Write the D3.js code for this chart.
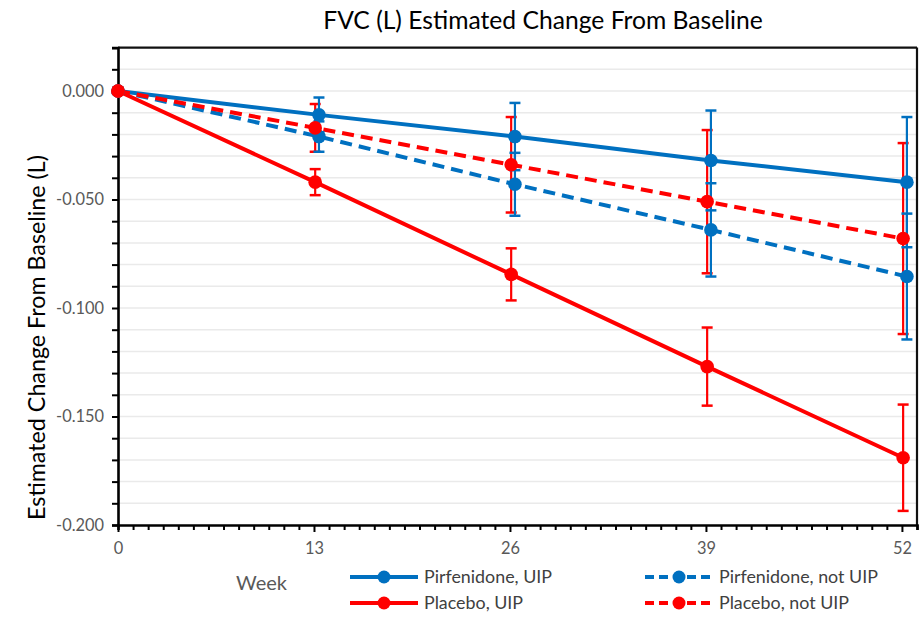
<!DOCTYPE html>
<html><head><meta charset="utf-8">
<script src="https://cdn.jsdelivr.net/npm/d3@7"></script>
<style>body{margin:0;background:#fff} svg{display:block}</style>
</head><body>
<svg id="chart" width="920" height="618"></svg>
<script>
// ---------------- data ----------------
const weeks = [0, 13, 26, 39, 52];
const seriesNames = ["Pirfenidone, UIP", "Pirfenidone, not UIP", "Placebo, UIP", "Placebo, not UIP"];
const pirfUIP      = [0, -0.011, -0.021, -0.032, -0.042];
const pirfUIPErr   = [0, 0.008, 0.0155, 0.023, 0.030];
const pirfNotUIP   = [0, -0.021, -0.043, -0.064, -0.0855];
const pirfNotUIPErr= [0, 0.007, 0.0145, 0.0215, 0.029];
const placUIP      = [0, -0.042, -0.0845, -0.127, -0.169];
const placUIPErr   = [0, 0.006, 0.012, 0.018, 0.0245];
const placNotUIP   = [0, -0.017, -0.034, -0.051, -0.068];
const placNotUIPErr= [0, 0.011, 0.022, 0.033, 0.044];
const yTickValues = [0, -0.05, -0.1, -0.15, -0.2];
const xTickValues = [0, 13, 26, 39, 52];
const titleText = "FVC (L) Estimated Change From Baseline";
const yTitleText = "Estimated Change From Baseline (L)";
const xTitleText = "Week";

// ---------------- layout / style ----------------
const FONT = "Lato, 'Noto Sans', sans-serif";
const BLUE = "#0070C0", RED = "#FF0000";
const svg = d3.select("#chart");
const x = d3.scaleLinear().domain([0, 53]).range([118, 917]);
const y = d3.scaleLinear().domain([-0.2, 0.02]).range([525, 47.6]);
const fmt = v => d3.format(".3f")(v).replace("\u2212", "-");

function fitSize(sample, target) {
  const t = svg.append("text").attr("font-family", FONT).attr("font-size", 100).text(sample);
  const w = t.node().getComputedTextLength();
  t.remove();
  return 100 * target / w;
}

const series = [
  {name: seriesNames[0], vals: pirfUIP, errs: pirfUIPErr, color: BLUE, dash: null, dodge: 0.33},
  {name: seriesNames[1], vals: pirfNotUIP, errs: pirfNotUIPErr, color: BLUE, dash: "12,7", dodge: 0.33},
  {name: seriesNames[2], vals: placUIP, errs: placUIPErr, color: RED, dash: null, dodge: 0.08},
  {name: seriesNames[3], vals: placNotUIP, errs: placNotUIPErr, color: RED, dash: "12,7", dodge: 0.08}
];
const px = (s, i) => x(weeks[i] + (weeks[i] > 0 ? s.dodge : 0));

// gridlines
const gridVals = d3.range(-19, 2).map(k => k / 100);
svg.append("g").selectAll("line").data(gridVals).join("line")
  .attr("x1", x(0)).attr("x2", x(53)).attr("y1", d => y(d)).attr("y2", d => y(d))
  .attr("stroke", "#EAEAEA").attr("stroke-width", 1.5);

// frame top/right
svg.append("line").attr("x1", x(0)).attr("x2", x(53)).attr("y1", y(0.02)).attr("y2", y(0.02))
  .attr("stroke", "#111").attr("stroke-width", 2.2);
svg.append("line").attr("x1", x(53)).attr("x2", x(53)).attr("y1", y(0.02)).attr("y2", y(-0.2))
  .attr("stroke", "#111").attr("stroke-width", 2.2);

// y axis
const yLabelSize = fitSize("-0.200", 48);
const yAxis = d3.axisLeft(y).tickValues(d3.range(-20, 3).map(k => k / 100)).tickSize(6).tickPadding(8)
  .tickFormat(d => yTickValues.some(v => Math.abs(v - d) < 1e-9) ? fmt(d) : "");
const gy = svg.append("g").attr("transform", `translate(${x(0)},0)`).call(yAxis);
gy.select(".domain").attr("stroke", "#000").attr("stroke-width", 2.6);
gy.selectAll(".tick line").attr("stroke", "#000").attr("stroke-width", 2);
gy.selectAll(".tick text").attr("font-family", FONT).attr("font-size", yLabelSize).attr("fill", "#595959");

// x axis
const xLabelSize = yLabelSize;
const xAxis = d3.axisBottom(x).tickValues(d3.range(0, 54)).tickSize(5).tickPadding(12)
  .tickFormat(d => xTickValues.includes(d) ? d : "");
const gx = svg.append("g").attr("transform", `translate(0,${y(-0.2)})`).call(xAxis);
gx.select(".domain").attr("stroke", "#000").attr("stroke-width", 2.6);
gx.selectAll(".tick line").attr("stroke", "#000").attr("stroke-width", 2)
  .attr("y2", d => xTickValues.includes(d) ? 7 : 5);
gx.selectAll(".tick text").attr("font-family", FONT).attr("font-size", xLabelSize).attr("fill", "#595959");

// lines
const lineGen = s => d3.line().x((d, i) => px(s, i)).y(d => y(d));
series.forEach(s => {
  svg.append("path").datum(s.vals).attr("d", lineGen(s))
    .attr("fill", "none").attr("stroke", s.color).attr("stroke-width", 4)
    .attr("stroke-dasharray", s.dash);
});

// error bars (red first, then blue)
[series[2], series[3], series[0], series[1]].forEach(s => {
  const g = svg.append("g").attr("stroke", s.color);
  s.vals.forEach((v, i) => {
    if (s.errs[i] <= 0) return;
    const cx = px(s, i), top = y(v + s.errs[i]), bot = y(v - s.errs[i]);
    g.append("line").attr("x1", cx).attr("x2", cx).attr("y1", top).attr("y2", bot).attr("stroke-width", 2.2);
    g.append("line").attr("x1", cx - 5.5).attr("x2", cx + 5.5).attr("y1", top).attr("y2", top).attr("stroke-width", 2.5);
    g.append("line").attr("x1", cx - 5.5).attr("x2", cx + 5.5).attr("y1", bot).attr("y2", bot).attr("stroke-width", 2.5);
  });
});

// markers (blue then red)
[series[0], series[1], series[2], series[3]].forEach(s => {
  svg.append("g").selectAll("circle").data(s.vals).join("circle")
    .attr("cx", (d, i) => px(s, i)).attr("cy", d => y(d)).attr("r", 6.8).attr("fill", s.color);
});

// title
svg.append("text").attr("x", 543).attr("y", 29).attr("text-anchor", "middle")
  .attr("font-family", FONT).attr("font-size", fitSize(titleText, 440)).attr("fill", "#000").text(titleText);

// y title
svg.append("text").attr("transform", "translate(45,337.5) rotate(-90)").attr("text-anchor", "middle")
  .attr("font-family", FONT).attr("font-size", fitSize(yTitleText, 365)).attr("fill", "#000").text(yTitleText);

// x title
svg.append("text").attr("x", 236).attr("y", 583).attr("dy", "0.35em")
  .attr("font-family", FONT).attr("font-size", fitSize(xTitleText, 51)).attr("fill", "#595959").text(xTitleText);

// legend
const legSize = fitSize("Pirfenidone, not UIP", 159);
const legPos = [[350, 577], [645, 577], [350, 603], [645, 603]];
series.forEach((s, k) => {
  const [lx, ly] = legPos[k];
  const g = svg.append("g").attr("transform", `translate(${lx},${ly})`);
  g.append("line").attr("x1", 0).attr("x2", 68).attr("y1", 0).attr("y2", 0)
    .attr("stroke", s.color).attr("stroke-width", 4).attr("stroke-dasharray", s.dash ? "9,5" : null);
  g.append("circle").attr("cx", 34).attr("cy", 0).attr("r", 6.5).attr("fill", s.color);
  g.append("text").attr("x", 74).attr("y", 0).attr("dy", "0.35em")
    .attr("font-family", FONT).attr("font-size", legSize).attr("fill", "#404040").text(s.name);
});
</script>
</body></html>
